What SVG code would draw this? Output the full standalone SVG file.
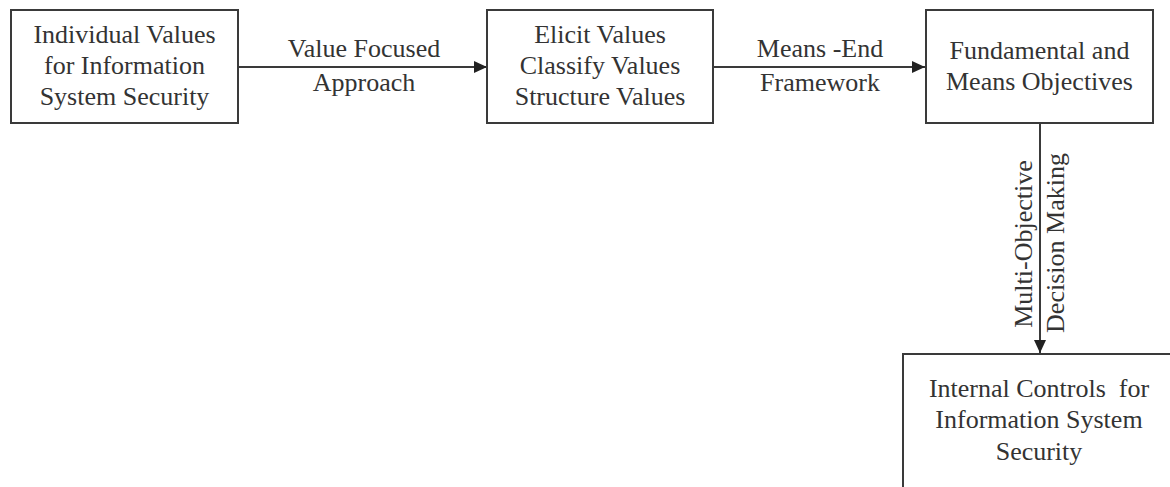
<svg xmlns="http://www.w3.org/2000/svg" width="1170" height="487" viewBox="0 0 1170 487">
<style>
.box{fill:#fff;stroke:#3a3a3a;stroke-width:2}
.t{font-family:"Liberation Serif","Times New Roman",serif;font-size:26px;fill:#333;text-anchor:middle;white-space:pre}
.c{stroke:#3a3a3a;stroke-width:2;fill:none;marker-end:url(#ah)}
</style>
<defs>
<marker id="ah" markerUnits="userSpaceOnUse" markerWidth="14" markerHeight="12" refX="13" refY="6" orient="auto">
<path d="M0,0 L13,6 L0,12 Z" fill="#222"/>
</marker>
</defs>
<rect width="1170" height="487" fill="#fff"/>
<g id="connectors">
<line class="c" x1="238" y1="67" x2="487" y2="67"/>
<line class="c" x1="713" y1="67" x2="925" y2="67"/>
<line class="c" x1="1040" y1="123" x2="1040" y2="353"/>
<text class="t" x="364" y="57">Value Focused</text>
<text class="t" x="364" y="91">Approach</text>
<text class="t" x="820" y="57">Means -End</text>
<text class="t" x="820" y="91">Framework</text>
<text class="t" transform="translate(1032,244) rotate(-90)">Multi-Objective</text>
<text class="t" transform="translate(1064,243) rotate(-90)">Decision Making</text>
</g>
<g id="n1">
<rect class="box" x="11" y="10" width="227" height="113"/>
<text class="t" x="124.5" y="43">Individual Values</text>
<text class="t" x="124.5" y="74">for Information</text>
<text class="t" x="124.5" y="105">System Security</text>
</g>
<g id="n2">
<rect class="box" x="487" y="10" width="226" height="113"/>
<text class="t" x="600" y="43">Elicit Values</text>
<text class="t" x="600" y="74">Classify Values</text>
<text class="t" x="600" y="105">Structure Values</text>
</g>
<g id="n3">
<rect class="box" x="926" y="10" width="227" height="113"/>
<text class="t" x="1039.5" y="59">Fundamental and</text>
<text class="t" x="1039.5" y="90">Means Objectives</text>
</g>
<g id="n4">
<rect class="box" x="903" y="354" width="275" height="150"/>
<text class="t" x="1039" y="397">Internal Controls  for</text>
<text class="t" x="1039" y="428">Information System</text>
<text class="t" x="1039" y="460">Security</text>
</g>
</svg>
